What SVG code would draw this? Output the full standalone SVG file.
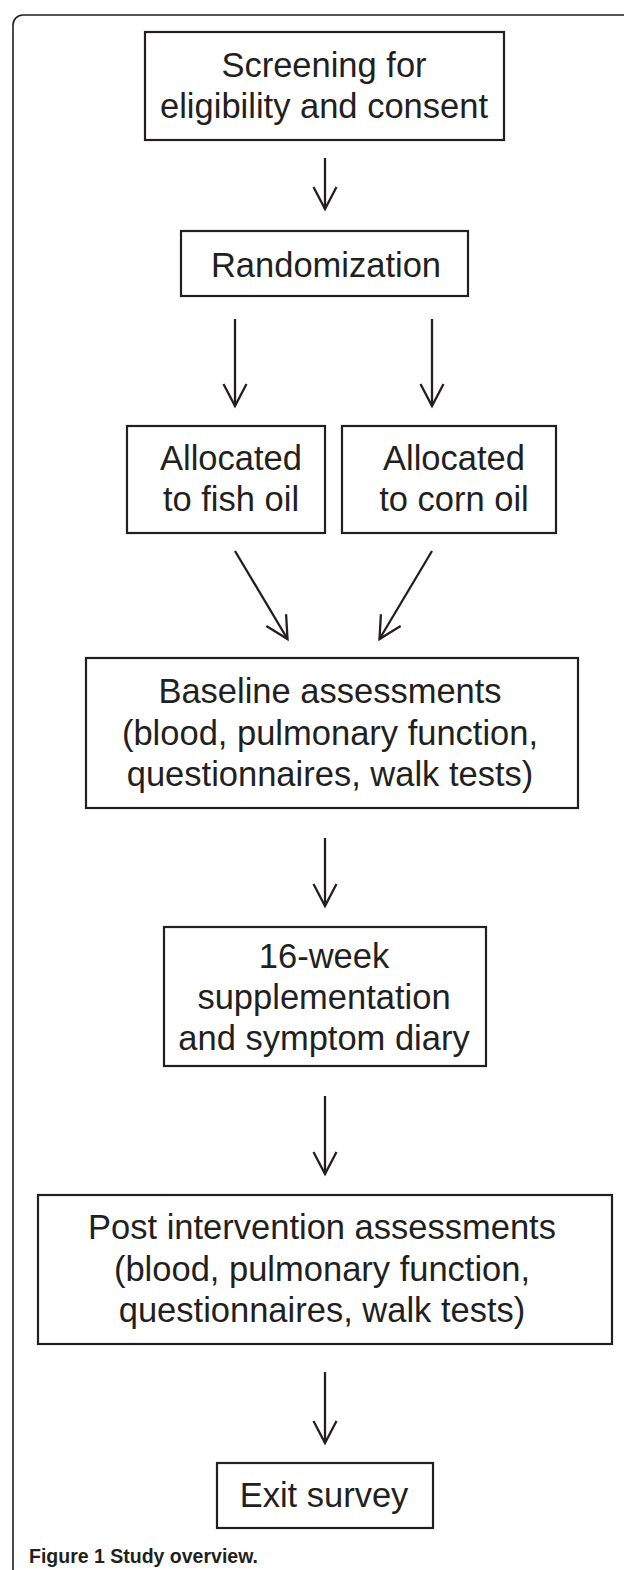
<svg xmlns="http://www.w3.org/2000/svg" width="624" height="1570" viewBox="0 0 624 1570">
<style>
  .box { fill: #ffffff; stroke: #231f20; stroke-width: 2.2; }
  .t { font-family: "Liberation Sans", Arial, Helvetica, sans-serif; font-size: 34.5px; fill: #231f20; text-anchor: middle; }
  .cn { stroke: #231f20; stroke-width: 2.3; fill: none; }
  .frame { fill: none; stroke: #231f20; stroke-width: 1.6; }
  .cap { font-family: "Liberation Sans", Arial, sans-serif; font-size: 19.5px; font-weight: bold; fill: #231f20; }
</style>
<defs>
  <marker id="ah" markerUnits="userSpaceOnUse" viewBox="-28 -16 32 32" refX="0" refY="0" markerWidth="32" markerHeight="32" orient="auto">
    <path d="M-22,-11.5 L0,0 L-22,11.5" fill="none" stroke="#231f20" stroke-width="2.3" stroke-linejoin="miter"/>
  </marker>
</defs>
<rect width="624" height="1570" fill="#ffffff"/>
<path class="frame" d="M13,1570 V25 A10,10 0 0 1 23,15 H624"/>

<g id="n1">
  <rect class="box" x="145" y="32" width="359" height="108"/>
  <text class="t" x="324" y="77">Screening for</text>
  <text class="t" x="324" y="118">eligibility and consent</text>
</g>
<g id="n2">
  <rect class="box" x="181" y="231" width="287" height="65"/>
  <text class="t" x="326" y="277">Randomization</text>
</g>
<g id="n3">
  <rect class="box" x="127" y="426" width="198" height="107"/>
  <text class="t" x="231" y="470">Allocated</text>
  <text class="t" x="231" y="511">to fish oil</text>
</g>
<g id="n4">
  <rect class="box" x="342" y="426" width="214" height="107"/>
  <text class="t" x="454" y="470">Allocated</text>
  <text class="t" x="454" y="511">to corn oil</text>
</g>
<g id="n5">
  <rect class="box" x="86" y="658" width="492" height="150"/>
  <text class="t" x="330" y="703">Baseline assessments</text>
  <text class="t" x="330" y="744.5">(blood, pulmonary function,</text>
  <text class="t" x="330" y="786">questionnaires, walk tests)</text>
</g>
<g id="n6">
  <rect class="box" x="164" y="927" width="322" height="139"/>
  <text class="t" x="324" y="968">16-week</text>
  <text class="t" x="324" y="1009">supplementation</text>
  <text class="t" x="324" y="1050">and symptom diary</text>
</g>
<g id="n7">
  <rect class="box" x="38" y="1195" width="574" height="149"/>
  <text class="t" x="322" y="1239">Post intervention assessments</text>
  <text class="t" x="322" y="1280.5">(blood, pulmonary function,</text>
  <text class="t" x="322" y="1322">questionnaires, walk tests)</text>
</g>
<g id="n8">
  <rect class="box" x="217" y="1463" width="216" height="65"/>
  <text class="t" x="324" y="1507">Exit survey</text>
</g>

<g id="connectors">
  <line class="cn" x1="325" y1="158" x2="325" y2="209" marker-end="url(#ah)"/>
  <line class="cn" x1="235" y1="319" x2="235" y2="406" marker-end="url(#ah)"/>
  <line class="cn" x1="432" y1="319" x2="432" y2="406" marker-end="url(#ah)"/>
  <line class="cn" x1="235" y1="551" x2="287.5" y2="639" marker-end="url(#ah)"/>
  <line class="cn" x1="432" y1="551" x2="379.5" y2="639" marker-end="url(#ah)"/>
  <line class="cn" x1="325" y1="838" x2="325" y2="906" marker-end="url(#ah)"/>
  <line class="cn" x1="325" y1="1096" x2="325" y2="1174" marker-end="url(#ah)"/>
  <line class="cn" x1="325" y1="1372" x2="325" y2="1443" marker-end="url(#ah)"/>
</g>

<text class="cap" x="29" y="1563">Figure 1 Study overview.</text>
</svg>
